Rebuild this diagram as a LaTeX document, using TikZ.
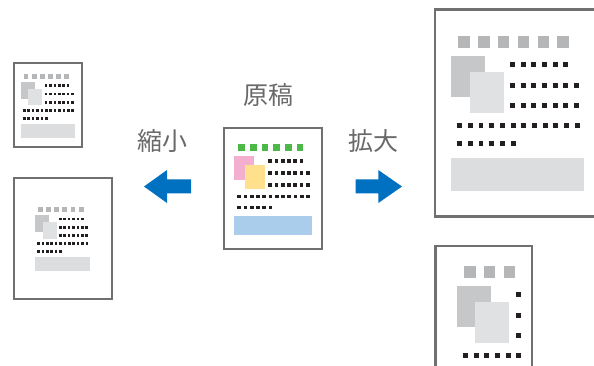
\documentclass[tikz,border=0pt]{standalone}
\usepackage{fontspec}
\newfontfamily\cjk{Noto Sans CJK JP}
\definecolor{framegray}{RGB}{112,112,112}
\definecolor{textgray}{RGB}{105,105,105}
\definecolor{arrowblue}{RGB}{0,112,192}
\definecolor{dgreen}{RGB}{76,184,72}
\definecolor{dpink}{RGB}{244,174,206}
\definecolor{dyellow}{RGB}{255,224,140}
\definecolor{dblue}{RGB}{171,205,236}
\definecolor{dotc}{RGB}{35,31,32}
\definecolor{gsq}{RGB}{181,182,184}
\definecolor{grect}{RGB}{198,199,200}
\definecolor{lrect}{RGB}{224,225,226}
\definecolor{gbar}{RGB}{220,221,222}
\newcommand\setcolored{\colorlet{sqc}{dgreen}\colorlet{ac}{dpink}\colorlet{bc}{dyellow}\colorlet{barc}{dblue}}
\newcommand\setgrayed{\colorlet{sqc}{gsq}\colorlet{ac}{grect}\colorlet{bc}{lrect}\colorlet{barc}{gbar}}
% #1 x, #2 y, #3 scale, #4 local half size of a dot
\newcommand\docbody[4]{%
\begin{scope}[shift={(#1,#2)},scale=#3]
  \foreach \i in {0,...,5} \fill[sqc] ({4.3+11.65*\i},0) rectangle ++(6.8,6.8);
  \fill[ac] (0,12) rectangle (20,36);
  \fill[bc] (11,21) rectangle (31,45);
  \foreach \i in {0,...,5} \fill[dotc] ({36.2+6.28*\i-#4},{17-#4}) rectangle ++({2*#4},{2*#4});
  \foreach \i in {0,...,6} \fill[dotc] ({36.2+6.28*\i-#4},{29-#4}) rectangle ++({2*#4},{2*#4});
  \foreach \i in {0,...,6} \fill[dotc] ({36.2+6.28*\i-#4},{41-#4}) rectangle ++({2*#4},{2*#4});
  \foreach \i in {0,...,11} \fill[dotc] ({5.1+6.28*\i-#4},{52.5-#4}) rectangle ++({2*#4},{2*#4});
  \foreach \i in {0,...,5} \fill[dotc] ({5.1+6.28*\i-#4},{63.5-#4}) rectangle ++({2*#4},{2*#4});
  \fill[barc] (0,72) rectangle (78,91);
\end{scope}}
\tikzset{
  paper/.style={draw=framegray,line width=2.2pt,fill=white},
  lbl/.style={text=textgray,font=\cjk\fontsize{25}{25}\selectfont,inner sep=0pt},
  bigarrow/.style={fill=arrowblue}
}
\begin{document}
\begin{tikzpicture}[x=1pt,y=-1pt]
\clip (0,0) rectangle (594,365);
\fill[white] (0,0) rectangle (594,365);
% original
\draw[paper] (224,128) rectangle (322,249);
\setcolored
\docbody{234}{144}{1}{1.85}
\setgrayed
% reduced
\draw[paper] (14,63) rectangle (82,147);
\docbody{20.7}{73.8}{0.7}{1.85}
\draw[paper] (14,178) rectangle (112,299);
\docbody{35}{207}{0.7}{1.85}
% enlarged
\draw[paper] (435,9.5) rectangle (605,216.5);
\docbody{451}{36}{1.7}{1.45}
\draw[paper] (435.5,246) rectangle (532,460);
\begin{scope}
  \clip (436,247) rectangle (522.5,365);
  \docbody{456.7}{266}{1.7}{1.45}
\end{scope}
% arrows
\fill[bigarrow] (144,186.5) -- (167,170) -- (167,179.3) -- (191,179.3) -- (191,193.3) -- (167,193.3) -- (167,203) -- cycle;
\fill[bigarrow] (402,186.5) -- (378.3,170) -- (378.3,179.3) -- (355.7,179.3) -- (355.7,193.3) -- (378.3,193.3) -- (378.3,203) -- cycle;
% labels
\node[lbl] (orig) at (268.3,95) {原稿};
\node[lbl] (reduce) at (162,141) {縮小};
\node[lbl] (enlarge) at (373.3,141) {拡大};
\end{tikzpicture}
\end{document}
